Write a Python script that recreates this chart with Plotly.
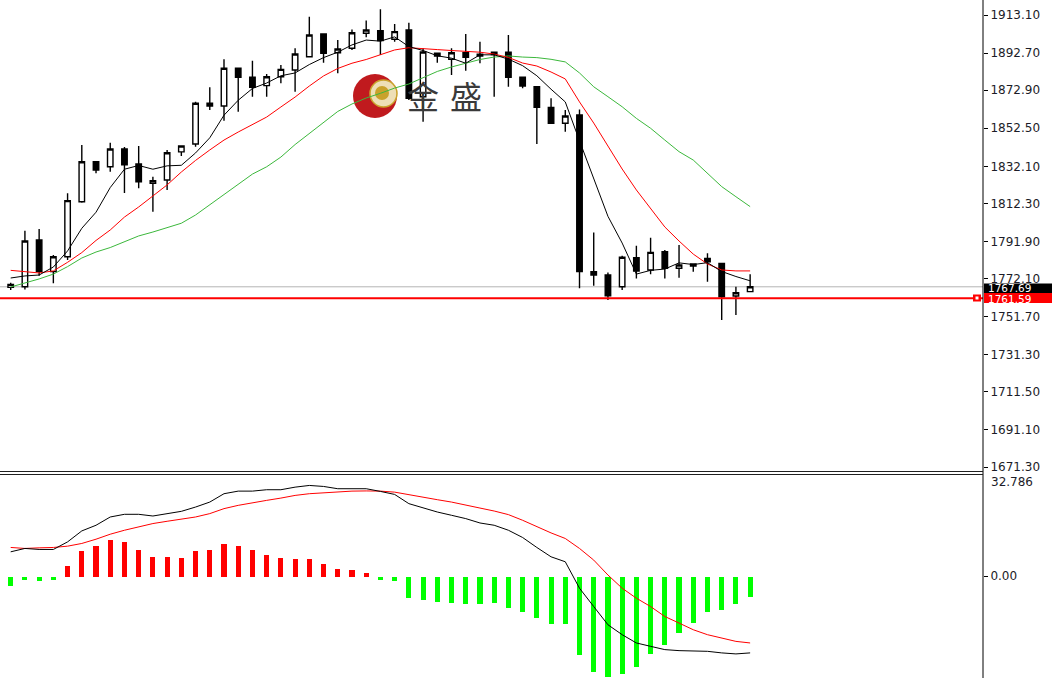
import plotly.graph_objects as go

# ---------------- data ----------------
bars = list(range(53))

open_ = [1767.4, 1767.7, 1792.7, 1775.8, 1783.8, 1813.2, 1834.6, 1831.9, 1841.4, 1833.4,
         1823.0, 1824.8, 1839.9, 1844.1, 1865.9, 1864.4, 1884.6, 1879.8, 1875.3, 1880.1,
         1883.7, 1890.8, 1902.9, 1892.9, 1895.3, 1903.3, 1904.7, 1900.1, 1905.1, 1869.4,
         1892.6, 1889.4, 1892.9, 1892.1, 1891.9, 1893.2, 1879.8, 1874.7, 1863.7, 1855.2,
         1859.6, 1775.8, 1774.0, 1767.7, 1783.3, 1776.7, 1786.5, 1777.6, 1779.9, 1782.9,
         1780.2, 1762.8, 1765.1]
high = [1769.9, 1797.7, 1798.6, 1784.7, 1817.7, 1843.5, 1835.0, 1844.8, 1842.5, 1843.0,
        1826.6, 1840.9, 1843.0, 1866.7, 1874.4, 1889.4, 1885.0, 1888.6, 1881.5, 1886.3,
        1895.3, 1912.2, 1903.3, 1899.7, 1905.4, 1910.1, 1916.2, 1908.3, 1909.0, 1895.3,
        1893.0, 1895.3, 1902.9, 1898.8, 1893.5, 1902.4, 1880.0, 1875.0, 1868.5, 1862.3,
        1862.6, 1796.8, 1775.4, 1784.3, 1789.7, 1794.0, 1787.4, 1790.0, 1780.2, 1785.6,
        1780.5, 1767.7, 1774.4]
low = [1766.0, 1766.3, 1773.6, 1769.6, 1782.0, 1812.7, 1828.4, 1829.3, 1817.9, 1820.4,
       1807.9, 1819.5, 1837.7, 1842.6, 1862.3, 1856.5, 1861.4, 1869.4, 1869.4, 1876.6,
       1872.1, 1890.5, 1887.6, 1881.9, 1894.4, 1901.2, 1891.7, 1898.8, 1867.6, 1856.0,
       1887.6, 1881.0, 1883.3, 1887.3, 1869.4, 1874.7, 1873.9, 1844.1, 1855.2, 1850.7,
       1766.9, 1768.3, 1760.6, 1766.0, 1772.2, 1774.4, 1772.2, 1772.6, 1775.8, 1770.4,
       1749.9, 1752.6, 1765.1]
close = [1769.0, 1792.2, 1775.8, 1783.8, 1813.8, 1834.6, 1830.2, 1841.4, 1832.9, 1823.9,
         1824.4, 1839.4, 1843.0, 1865.9, 1864.4, 1884.6, 1879.8, 1874.4, 1880.1, 1884.0,
         1892.2, 1902.4, 1892.6, 1894.9, 1903.6, 1905.1, 1899.4, 1904.2, 1868.5, 1893.3,
         1891.2, 1892.9, 1890.5, 1891.2, 1893.2, 1879.8, 1875.1, 1863.7, 1855.2, 1859.1,
         1775.8, 1774.0, 1762.9, 1783.5, 1776.1, 1786.1, 1777.6, 1779.4, 1778.8, 1781.1,
         1762.4, 1764.5, 1767.69]

ma_fast = [1772.4, 1773.5, 1774.0, 1778.3, 1786.9, 1799.0, 1807.6, 1820.8, 1830.6, 1832.6,
           1830.6, 1832.4, 1832.7, 1839.3, 1847.4, 1859.5, 1867.5, 1873.8, 1876.7, 1880.6,
           1882.1, 1886.6, 1890.3, 1893.2, 1897.1, 1899.7, 1899.1, 1901.4, 1896.2, 1894.1,
           1891.3, 1890.0, 1887.3, 1891.8, 1891.8, 1889.5, 1886.0, 1880.6, 1873.4, 1866.6,
           1845.8, 1825.6, 1805.4, 1791.1, 1774.5, 1776.5, 1777.2, 1780.5, 1779.6, 1780.6,
           1775.9, 1773.2, 1770.9]
ma_mid = [1776.5, 1775.8, 1775.1, 1776.2, 1780.8, 1786.0, 1792.5, 1798.1, 1805.0, 1810.4,
          1816.5, 1822.2, 1829.1, 1835.3, 1840.9, 1846.2, 1850.5, 1854.3, 1858.5, 1863.9,
          1869.2, 1875.1, 1880.5, 1884.5, 1887.3, 1889.3, 1891.7, 1894.4, 1895.6, 1895.3,
          1894.6, 1894.1, 1893.8, 1893.2, 1892.2, 1890.4, 1887.4, 1885.8, 1882.6, 1878.9,
          1866.6, 1855.3, 1843.0, 1830.7, 1819.5, 1809.5, 1799.7, 1792.2, 1785.2, 1779.9,
          1776.7, 1776.2, 1776.2]
ma_slow = [1767.6, 1769.6, 1771.9, 1774.5, 1778.5, 1783.1, 1786.3, 1788.7, 1791.9, 1794.9,
           1797.0, 1799.2, 1801.7, 1806.1, 1811.5, 1816.8, 1822.2, 1828.0, 1831.9, 1837.1,
           1843.8, 1849.7, 1855.6, 1861.5, 1865.5, 1868.7, 1871.2, 1874.0, 1876.2, 1879.4,
           1882.9, 1885.3, 1887.3, 1889.3, 1890.6, 1891.2, 1890.6, 1890.3, 1889.4, 1888.0,
           1882.1, 1874.7, 1869.4, 1864.0, 1857.8, 1852.5, 1846.2, 1840.0, 1835.5, 1828.4,
           1821.3, 1815.9, 1810.6]

macd_hist = [-3.0, -1.1, -1.6, -1.0, 3.5, 8.3, 10.0, 11.9, 11.2, 8.6,
             6.4, 6.4, 6.0, 8.3, 8.6, 10.4, 10.0, 8.6, 7.1, 6.0,
             5.6, 5.6, 4.2, 2.4, 2.0, 1.2, -1.1, -1.5, -7.0, -7.7,
             -8.2, -8.6, -9.0, -9.0, -8.6, -10.1, -11.5, -13.3, -15.2, -15.5,
             -25.4, -31.0, -32.6, -31.6, -29.3, -25.1, -22.2, -18.4, -14.9, -11.5,
             -10.7, -9.0, -6.6]
macd_dif = [7.81, 8.90, 8.58, 8.58, 11.02, 14.56, 16.39, 19.06, 19.93, 19.93,
            19.38, 20.15, 20.89, 22.27, 23.88, 26.58, 27.42, 27.42, 27.87, 27.87,
            28.70, 29.25, 28.93, 28.19, 28.19, 28.19, 27.32, 26.35, 23.37, 21.95,
            20.67, 19.61, 18.54, 17.13, 16.39, 14.78, 12.44, 9.22, 6.20, 4.60,
            -3.95, -9.87, -15.75, -18.96, -21.63, -22.72, -23.78, -24.11, -24.33, -24.33,
            -24.84, -25.17, -24.84]
macd_dea = [9.22, 8.90, 9.10, 9.22, 9.64, 10.51, 11.89, 13.50, 14.78, 15.85,
            16.94, 17.68, 18.32, 19.06, 20.15, 21.76, 22.82, 23.69, 24.43, 25.17,
            26.03, 26.58, 26.90, 27.32, 27.42, 27.48, 27.42, 27.09, 26.35, 25.49,
            24.65, 23.88, 22.82, 21.95, 20.99, 19.83, 18.00, 15.85, 13.92, 12.12,
            8.90, 5.14, 0.32, -3.95, -7.17, -9.87, -13.08, -15.20, -17.36, -18.96,
            -20.02, -21.12, -21.63]

price_ticks = [1913.10, 1892.70, 1872.90, 1852.50, 1832.10, 1812.30, 1791.90,
               1772.10, 1751.70, 1731.30, 1711.50, 1691.10, 1671.30]
bid_price = 1767.69
line_price = 1761.59
macd_top = 32.786

# ---------------- layout helpers (pixel -> paper) ----------------
W, H = 1052, 678
PLOT_R = 983


def px(x):
    return x / PLOT_R


def py(y):
    return 1 - y / H


FONT = "DejaVu Sans"
TXT = "#1c1c28"

fig = go.Figure()

fig.add_trace(go.Candlestick(
    x=bars, open=open_, high=high, low=low, close=close,
    increasing=dict(line=dict(color="black", width=1.4), fillcolor="white"),
    decreasing=dict(line=dict(color="black", width=1.4), fillcolor="black"),
    whiskerwidth=0, xaxis="x", yaxis="y", hoverinfo="skip", showlegend=False))

fig.add_trace(go.Scatter(x=bars, y=ma_slow, mode="lines",
                         line=dict(color="#3cb83c", width=1), xaxis="x", yaxis="y"))
fig.add_trace(go.Scatter(x=bars, y=ma_mid, mode="lines",
                         line=dict(color="#ff0000", width=1), xaxis="x", yaxis="y"))
fig.add_trace(go.Scatter(x=bars, y=ma_fast, mode="lines",
                         line=dict(color="#000000", width=1), xaxis="x", yaxis="y"))

hist_colors = ["#ff0000" if v >= 0 else "#00ff00" for v in macd_hist]
fig.add_trace(go.Bar(x=bars, y=macd_hist, marker=dict(color=hist_colors, line=dict(width=0)),
                     width=0.36, xaxis="x2", yaxis="y2"))
fig.add_trace(go.Scatter(x=bars, y=macd_dea, mode="lines",
                         line=dict(color="#ff0000", width=1), xaxis="x2", yaxis="y2"))
fig.add_trace(go.Scatter(x=bars, y=macd_dif, mode="lines",
                         line=dict(color="#000000", width=1), xaxis="x2", yaxis="y2"))

x_lo = -10.7 / 14.22
x_hi = (PLOT_R - 10.7) / 14.22
k_price = 0.53496
y_top = price_ticks[0] + 15 * k_price
y_bot = price_ticks[0] - (471.5 - 15) * k_price
k_macd = macd_top / (576 - 474.5)
macd_bot = -(678 - 576) * k_macd

shapes = []
# horizontal bid line and red level line
shapes.append(dict(type="line", xref="paper", yref="y", x0=0, x1=1, y0=bid_price, y1=bid_price,
                   line=dict(color="#b4b4b4", width=1), layer="below"))
shapes.append(dict(type="line", xref="paper", yref="y", x0=0, x1=1, y0=line_price, y1=line_price,
                   line=dict(color="#ff0000", width=2)))
# marker on the red line
shapes.append(dict(type="rect", xref="paper", yref="paper", x0=px(973), x1=px(981),
                   y0=py(301.5), y1=py(294.5), fillcolor="#ff0000", line=dict(width=0)))
shapes.append(dict(type="rect", xref="paper", yref="paper", x0=px(975.5), x1=px(978.5),
                   y0=py(299.5), y1=py(296.5), fillcolor="#ffffff", line=dict(width=0)))
# right axis line
shapes.append(dict(type="line", xref="paper", yref="paper", x0=1, x1=1, y0=0, y1=1,
                   line=dict(color="#000000", width=1)))
# panel separators
for yy in (471.5, 474.5):
    shapes.append(dict(type="line", xref="paper", yref="paper", x0=0, x1=1, y0=py(yy), y1=py(yy),
                       line=dict(color="#202020", width=1)))
# price boxes
shapes.append(dict(type="rect", xref="paper", yref="paper", x0=px(984), x1=px(1052),
                   y0=py(293), y1=py(283.5), fillcolor="#000000", line=dict(width=0)))
shapes.append(dict(type="rect", xref="paper", yref="paper", x0=px(984), x1=px(1052),
                   y0=py(303), y1=py(293), fillcolor="#ff0000", line=dict(width=0)))
# watermark logo
shapes.append(dict(type="circle", xref="paper", yref="paper", x0=px(353), x1=px(397),
                   y0=py(118), y1=py(74), fillcolor="#c01a1e", line=dict(width=0), layer="below"))
shapes.append(dict(type="circle", xref="paper", yref="paper", x0=px(370), x1=px(397),
                   y0=py(107), y1=py(80), fillcolor="#eedfb6", line=dict(color="#c9a22a", width=1.5),
                   layer="below"))
shapes.append(dict(type="circle", xref="paper", yref="paper", x0=px(375), x1=px(389),
                   y0=py(100), y1=py(86), fillcolor="#c9a22a", line=dict(width=0), layer="below"))

annotations = [
    dict(xref="paper", yref="paper", x=px(986), y=py(288.3), text=f"{bid_price:.2f}", showarrow=False,
         xanchor="left", yanchor="middle", font=dict(family=FONT, size=10.5, color="#ffffff")),
    dict(xref="paper", yref="paper", x=px(986), y=py(298.5), text=f"{line_price:.2f}", showarrow=False,
         xanchor="left", yanchor="middle", font=dict(family=FONT, size=10.5, color="#ffffff")),
    dict(xref="paper", yref="paper", x=px(989), y=py(482), text=f"{macd_top:.3f}", showarrow=False,
         xanchor="left", yanchor="middle", font=dict(family=FONT, size=12, color=TXT)),
    dict(xref="paper", yref="paper", x=px(423), y=py(95), text="金", showarrow=False,
         xanchor="center", yanchor="middle",
         font=dict(family="Noto Sans CJK SC", size=32, color="#3a3a3a")),
    dict(xref="paper", yref="paper", x=px(466), y=py(95), text="盛", showarrow=False,
         xanchor="center", yanchor="middle",
         font=dict(family="Noto Sans CJK SC", size=32, color="#3a3a3a")),
]

fig.update_layout(
    template="none",
    width=W, height=H, margin=dict(l=0, r=W - PLOT_R, t=0, b=0, pad=0), autosize=False,
    paper_bgcolor="white", plot_bgcolor="white", showlegend=False,
    boxgap=0.45, bargap=0,
    xaxis=dict(domain=[0, 1], range=[x_lo, x_hi], anchor="y", visible=False, automargin=False,
               rangeslider=dict(visible=False), showgrid=False, zeroline=False),
    yaxis=dict(domain=[py(471.5), 1], range=[y_bot, y_top], side="right", anchor="x",
               automargin=False,
               tickvals=price_ticks, ticktext=[f"{v:.2f}" for v in price_ticks],
               ticks="outside", ticklen=4, tickcolor="#000000", showgrid=False, zeroline=False,
               showline=False, tickfont=dict(family=FONT, size=12, color=TXT)),
    xaxis2=dict(domain=[0, 1], range=[x_lo, x_hi], anchor="y2", matches="x", visible=False,
                automargin=False, showgrid=False, zeroline=False),
    yaxis2=dict(domain=[0, py(474.5)], range=[macd_bot, macd_top], side="right", anchor="x2",
                automargin=False,
                tickvals=[0], ticktext=["0.00"], ticks="outside", ticklen=4, tickcolor="#000000",
                showgrid=False, zeroline=False, showline=False,
                tickfont=dict(family=FONT, size=12, color=TXT)),
    shapes=shapes, annotations=annotations,
)

fig.write_html("out.html", config={"displayModeBar": False},
               post_script="document.body.style.margin='0px';document.body.style.overflow='hidden';")
